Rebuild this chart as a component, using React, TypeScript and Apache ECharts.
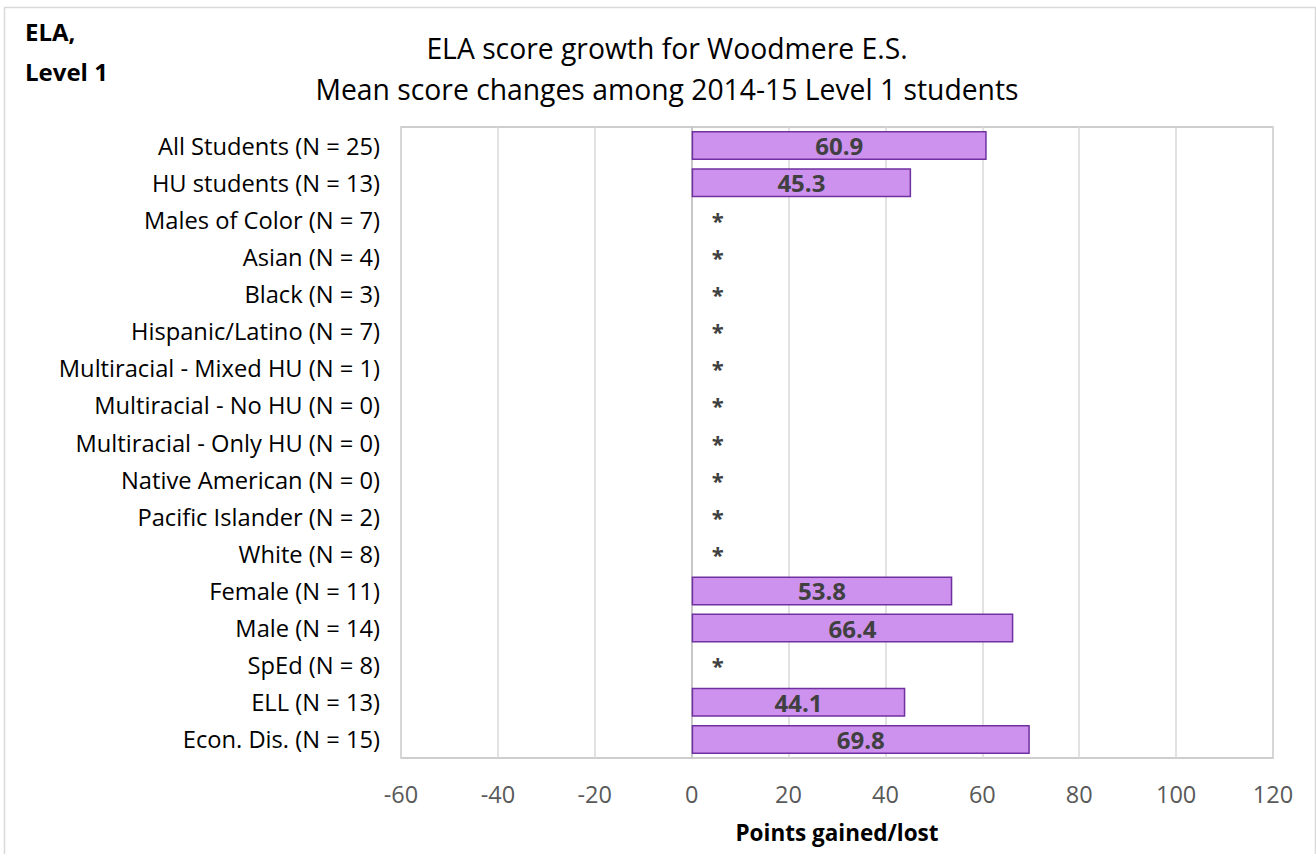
import React, { useEffect, useRef } from "react";
import * as echarts from "echarts";

const categories = [
  "All Students (N = 25)",
  "HU students (N = 13)",
  "Males of Color (N = 7)",
  "Asian (N = 4)",
  "Black (N = 3)",
  "Hispanic/Latino (N = 7)",
  "Multiracial - Mixed HU (N = 1)",
  "Multiracial - No HU (N = 0)",
  "Multiracial - Only HU (N = 0)",
  "Native American (N = 0)",
  "Pacific Islander (N = 2)",
  "White (N = 8)",
  "Female (N = 11)",
  "Male (N = 14)",
  "SpEd (N = 8)",
  "ELL (N = 13)",
  "Econ. Dis. (N = 15)",
];
const values: (number | null)[] = [60.9, 45.3, null, null, null, null, null, null, null, null, null, null, 53.8, 66.4, null, 44.1, 69.8];
const xTicks = { min: -60, max: 120, interval: 20 };

const FONT = "'Open Sans', 'Liberation Sans', sans-serif";

export default function App() {
  const ref = useRef<HTMLDivElement>(null);
  useEffect(() => {
    if (!ref.current) return;
    const chart = echarts.init(ref.current, null, { renderer: "svg" });
    const data = values.map((v) =>
      v === null
        ? {
            value: 0,
            itemStyle: { borderWidth: 0, color: "transparent" },
            label: {
              show: true,
              formatter: "*",
              position: "right",
              distance: 20,
              fontSize: 22,
              fontWeight: "bold",
              color: "#404040",
            },
          }
        : { value: v }
    );
    chart.setOption({
      animation: false,
      textStyle: { fontFamily: FONT },
      graphic: [
        {
          type: "rect",
          shape: { x: 4.5, y: 7.5, width: 1311, height: 860 },
          style: { fill: "none", stroke: "#d9d9d9", lineWidth: 1.5 },
          silent: true,
        },
        {
          type: "text",
          left: 25,
          top: 11,
          style: {
            text: "ELA,\nLevel 1",
            fontSize: 24,
            fontWeight: "bold",
            fill: "#000",
            fontFamily: FONT,
            lineHeight: 40,
          },
        },
      ],
      title: {
        text: "ELA score growth for Woodmere E.S.\nMean score changes among 2014-15 Level 1 students",
        left: 662,
        textAlign: "center",
        top: 22,
        textStyle: {
          fontSize: 28.3,
          fontWeight: "normal",
          color: "#000",
          fontFamily: FONT,
          lineHeight: 41,
        },
      },
      grid: {
        left: 401,
        right: 43,
        top: 127,
        bottom: 96,
        show: true,
        borderColor: "#bfbfbf",
        borderWidth: 1.5,
      },
      xAxis: {
        type: "value",
        min: xTicks.min,
        max: xTicks.max,
        interval: xTicks.interval,
        axisLine: { show: false },
        axisTick: { show: false },
        splitLine: { show: true, lineStyle: { color: "#d9d9d9", width: 1.5 } },
        axisLabel: { fontSize: 23.5, color: "#595959", margin: 24, fontFamily: FONT },
        name: "Points gained/lost",
        nameLocation: "middle",
        nameGap: 63,
        nameTextStyle: { fontSize: 22.5, fontWeight: "bold", color: "#000", fontFamily: FONT },
      },
      yAxis: {
        type: "category",
        data: categories,
        inverse: true,
        axisLine: { show: true, lineStyle: { color: "#bfbfbf", width: 1.5 } },
        axisTick: { show: false },
        axisLabel: { fontSize: 23.7, color: "#000", margin: 21, fontFamily: FONT },
      },
      series: [
        {
          type: "bar",
          data,
          barCategoryGap: "22%",
          itemStyle: { color: "#cc92ee", borderColor: "#7030a0", borderWidth: 1.5 },
          label: {
            show: true,
            position: "inside",
            fontSize: 24,
            fontWeight: "bold",
            color: "#404040",
            fontFamily: FONT,
            formatter: (p: any) => p.value.toFixed(1),
          },
        },
      ],
    });
    return () => chart.dispose();
  }, []);
  return (
    <div
      ref={ref}
      style={{ position: "fixed", left: 0, top: 0, width: 1316, height: 854, background: "#fff" }}
    />
  );
}
